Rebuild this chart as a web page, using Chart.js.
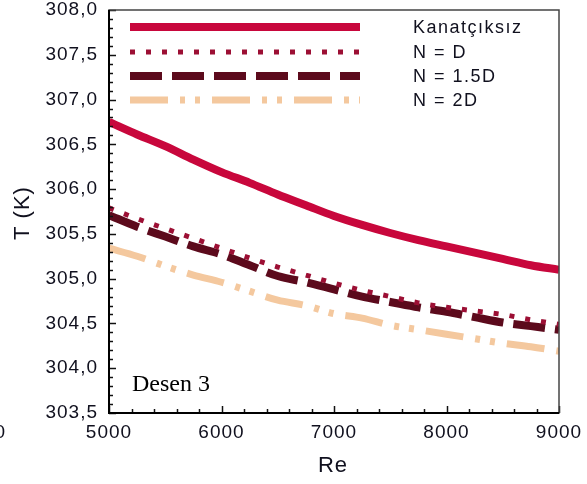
<!DOCTYPE html>
<html><head><meta charset="utf-8">
<script src="https://cdn.jsdelivr.net/npm/chart.js@4/dist/chart.umd.min.js"></script>
<style>html,body{margin:0;padding:0;background:#fff;overflow:hidden}#wrap{width:587px;height:484px;position:relative}</style>
</head><body><div id="wrap"><canvas id="c" width="587" height="484"></canvas></div>
<script>
// ---- data ----
const reValues = [5000,5250,5500,5750,6000,6250,6500,6750,7000,7250,7500,7750,8000,8250,8500,8750,9000];
const tKanatciksiz = [306.75,306.61,306.48,306.33,306.19,306.07,305.94,305.82,305.70,305.60,305.51,305.43,305.36,305.29,305.22,305.15,305.10];
const tN_D   = [305.79,305.67,305.56,305.45,305.34,305.23,305.13,305.04,304.95,304.87,304.80,304.73,304.68,304.64,304.60,304.54,304.49];
const tN_15D = [305.71,305.58,305.47,305.36,305.27,305.15,305.03,304.96,304.88,304.80,304.74,304.68,304.63,304.57,304.51,304.47,304.43];
const tN_2D  = [305.34,305.25,305.14,305.04,304.96,304.86,304.76,304.70,304.61,304.56,304.48,304.43,304.38,304.33,304.28,304.24,304.19];
const seriesNames = ['Kanatçıksız','N = D','N = 1.5D','N = 2D'];
const yTickLabels = ['303,5','304,0','304,5','305,0','305,5','306,0','306,5','307,0','307,5','308,0'];
const xTickLabels = ['5000','6000','7000','8000','9000'];
const xTitle = 'Re';
const yTitle = 'T (K)';
const panelNote = 'Desen 3';

const TEXT = '#10101e';
const FONT = 'Liberation Sans, Arial, sans-serif';
const colors = ['#c8073c','#9c0f34','#5c0a1c','#f4c89e'];
const widths = [8,5,8,7];
const dashes = [[], [5,11], [32,10], [38,12,5,10,5,12]];
const allSeries = [tKanatciksiz,tN_D,tN_15D,tN_2D];

const datasets = allSeries.map((s,i)=>({
  label: seriesNames[i],
  data: s.map((v,k)=>({x: reValues[k], y: v})),
  borderColor: colors[i],
  backgroundColor: colors[i],
  borderWidth: widths[i],
  borderDash: dashes[i],
  borderCapStyle: 'butt',
  pointRadius: 0,
  cubicInterpolationMode: 'monotone',
  fill: false
}));

const decor = {
  id: 'decor',
  beforeDraw(chart){ chart.ctx.letterSpacing = '1px'; },
  afterDraw(chart){
    const ctx = chart.ctx, a = chart.chartArea;
    const xs = chart.scales.x, ys = chart.scales.y;
    ctx.save();
    // inward ticks
    ctx.strokeStyle = '#111'; ctx.lineWidth = 1.5;
    for (let k = 0; k <= 45; k++) {
      const v = 303.5 + k*0.1; const py = Math.round(ys.getPixelForValue(v)) + 0.5;
      const len = (k % 5 === 0) ? 7 : 4;
      ctx.beginPath(); ctx.moveTo(a.left, py); ctx.lineTo(a.left+len, py); ctx.stroke();
    }
    for (let k = 0; k <= 20; k++) {
      const v = 5000 + k*200; const px = Math.round(xs.getPixelForValue(v)) + 0.5;
      const len = (k % 5 === 0) ? 7 : 4;
      ctx.beginPath(); ctx.moveTo(px, a.bottom); ctx.lineTo(px, a.bottom-len); ctx.stroke();
    }
    // frame
    ctx.strokeStyle = '#444'; ctx.lineWidth = 1.5;
    ctx.strokeRect(a.left, a.top, a.right-a.left, a.bottom-a.top);
    ctx.strokeStyle = '#000'; ctx.lineWidth = 2;
    ctx.beginPath(); ctx.moveTo(a.left, a.top); ctx.lineTo(a.left, a.bottom); ctx.lineTo(a.right, a.bottom); ctx.stroke();
    // legend
    const ly = [27,52,76,100];
    chart.data.datasets.forEach((d,i)=>{
      ctx.save();
      ctx.strokeStyle = d.borderColor; ctx.lineWidth = d.borderWidth;
      ctx.setLineDash(d.borderDash); ctx.lineCap = 'butt';
      ctx.beginPath(); ctx.moveTo(130, ly[i]); ctx.lineTo(360, ly[i]); ctx.stroke();
      ctx.restore();
      ctx.fillStyle = TEXT; ctx.font = '18px ' + FONT; ctx.letterSpacing = '1.5px';
      ctx.textAlign = 'left'; ctx.textBaseline = 'middle';
      ctx.fillText(d.label, 413, ly[i]+1);
    });
    // titles
    ctx.letterSpacing = '1px';
    ctx.fillStyle = TEXT; ctx.font = '22px ' + FONT;
    ctx.textAlign = 'center'; ctx.textBaseline = 'middle';
    ctx.fillText(xTitle, 333, 466);
    ctx.save(); ctx.translate(23, 213); ctx.rotate(-Math.PI/2); ctx.fillText(yTitle, 0, 0); ctx.restore();
    // cut-off neighbour label
    ctx.font = '19px ' + FONT; ctx.textAlign = 'right';
    ctx.fillText('0', 6, 433);
    // panel note
    ctx.letterSpacing = '0px';
    ctx.font = '24px Liberation Serif, Times New Roman, serif'; ctx.fillStyle = '#000';
    ctx.textAlign = 'left'; ctx.textBaseline = 'alphabetic';
    ctx.fillText(panelNote, 132, 391);
    ctx.restore();
  }
};

new Chart(document.getElementById('c'), {
  type: 'line',
  data: { datasets },
  options: {
    responsive: false, animation: false, devicePixelRatio: 1,
    layout: { padding: { left: 0, right: 28, top: 10, bottom: 0 } },
    plugins: { legend: { display: false }, tooltip: { enabled: false } },
    scales: {
      x: {
        type: 'linear', min: 5000, max: 9000,
        afterFit(s){ s.height = 71; s.paddingLeft = 0; s.paddingRight = 0; },
        grid: { display: false, drawTicks: false },
        border: { display: false },
        ticks: { stepSize: 1000, padding: 8, color: TEXT, font: { family: FONT, size: 19 }, maxRotation: 0,
          callback: (v)=> xTickLabels[Math.round((v-5000)/1000)] }
      },
      y: {
        type: 'linear', min: 303.5, max: 308,
        afterFit(s){ s.width = 109; s.paddingTop = 0; s.paddingBottom = 0; },
        grid: { display: false, drawTicks: false },
        border: { display: false },
        ticks: { stepSize: 0.5, padding: 11, color: TEXT, font: { family: FONT, size: 19 },
          callback: (v)=> yTickLabels[Math.round((v-303.5)/0.5)] }
      }
    }
  },
  plugins: [decor]
});
</script></body></html>
